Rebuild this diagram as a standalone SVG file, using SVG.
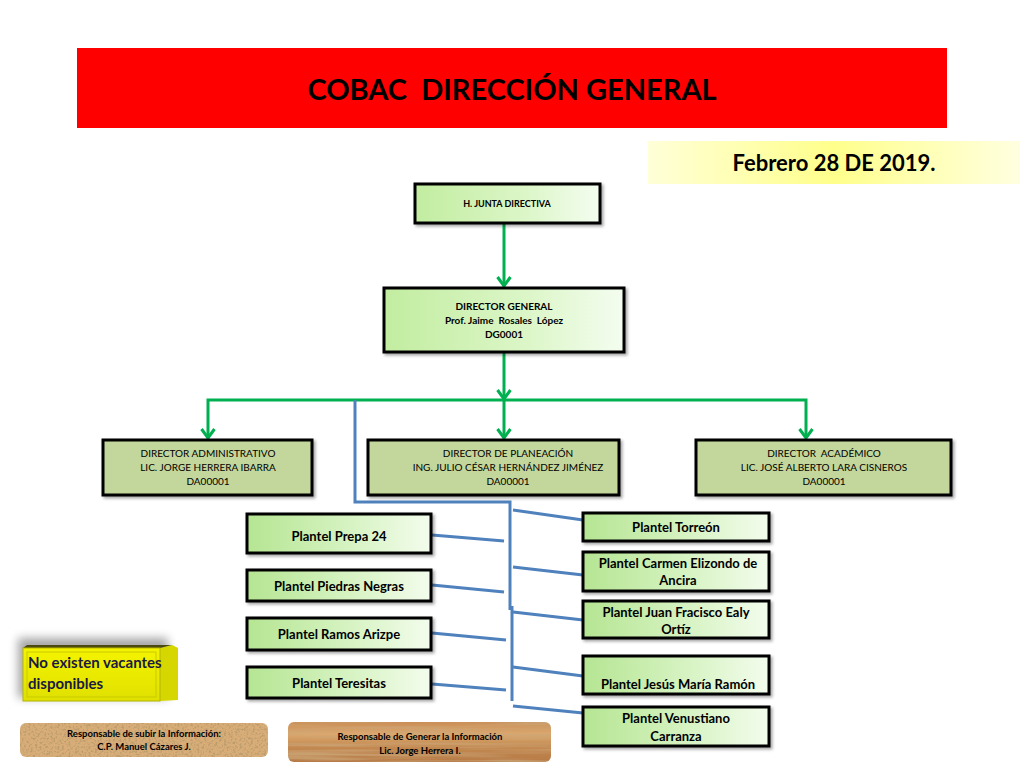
<svg xmlns="http://www.w3.org/2000/svg" width="1024" height="768" viewBox="0 0 1024 768">
<defs>
<linearGradient id="gTop" x1="0" y1="0" x2="1" y2="0">
<stop offset="0" stop-color="#c2eda0"/><stop offset="0.6" stop-color="#dcf6c8"/><stop offset="1" stop-color="#f4fdf0"/>
</linearGradient>
<linearGradient id="gPl" x1="0" y1="0" x2="1" y2="0">
<stop offset="0" stop-color="#b5e592"/><stop offset="0.6" stop-color="#d9f4c6"/><stop offset="1" stop-color="#f3fced"/>
</linearGradient>
<linearGradient id="gDate" x1="0" y1="0" x2="1" y2="0">
<stop offset="0" stop-color="#ffffd8"/><stop offset="0.5" stop-color="#ffff8c"/><stop offset="1" stop-color="#ffffe0"/>
</linearGradient>
<linearGradient id="gYel" x1="0" y1="0" x2="0" y2="1">
<stop offset="0" stop-color="#f4f400"/><stop offset="1" stop-color="#e0e000"/>
</linearGradient>
<linearGradient id="gWood" x1="0" y1="0" x2="0" y2="1">
<stop offset="0" stop-color="#c98d55"/><stop offset="0.3" stop-color="#dba86f"/><stop offset="0.6" stop-color="#c48a52"/><stop offset="1" stop-color="#b67a45"/>
</linearGradient>
<filter id="corkTex" x="0" y="0" width="100%" height="100%">
<feTurbulence type="fractalNoise" baseFrequency="0.45" numOctaves="3" seed="4" result="n"/>
<feColorMatrix in="n" type="matrix" values="0 0 0 0 0.5  0 0 0 0 0.33  0 0 0 0 0.15  3.5 0 0 0 -1.6" result="spots"/>
<feComposite in="spots" in2="SourceGraphic" operator="atop"/>
</filter>
<filter id="woodTex" x="0" y="0" width="100%" height="100%">
<feTurbulence type="fractalNoise" baseFrequency="0.008 0.3" numOctaves="2" seed="7" result="n"/>
<feColorMatrix in="n" type="matrix" values="0 0 0 0 0.6  0 0 0 0 0.38  0 0 0 0 0.18  2.2 0 0 0 -0.9" result="grain"/>
<feComposite in="grain" in2="SourceGraphic" operator="atop"/>
</filter>
<filter id="sh" x="-10%" y="-20%" width="130%" height="150%">
<feDropShadow dx="2" dy="2" stdDeviation="1.5" flood-color="#000" flood-opacity="0.35"/>
</filter>
<filter id="blur" x="-30%" y="-30%" width="160%" height="160%">
<feGaussianBlur stdDeviation="5"/>
</filter>
<marker id="ga" viewBox="0 0 12 16" refX="10" refY="8" markerWidth="12" markerHeight="16" markerUnits="userSpaceOnUse" orient="auto-start-reverse">
<polyline points="1,1.5 10,8 1,14.5" fill="none" stroke="#00b050" stroke-width="3"/>
</marker>
<style>
.t{font-family:Lato,"Liberation Sans",sans-serif;fill:#000;text-anchor:middle;white-space:pre}
.b{font-weight:bold}
.box{stroke:#000;stroke-width:3;filter:url(#sh)}
.top{fill:url(#gTop)}
.pl{fill:url(#gPl)}
.dir{fill:#c3d69b}
.g{stroke:#00b050;stroke-width:3;fill:none}
.bl{stroke:#4f81bd;stroke-width:3;fill:none}
.s9{font-size:9px}
.s10{font-size:10px}
.s13{font-size:13px}
</style>
</defs>
<rect width="1024" height="768" fill="#fff"/>

<g id="header">
<rect x="77" y="48" width="870" height="80" fill="#fe0000"/>
<text class="t b" x="512" y="100" font-size="29" xml:space="preserve">COBAC  DIRECCIÓN GENERAL</text>
</g>
<g id="date">
<rect x="648" y="141" width="372" height="43" fill="url(#gDate)"/>
<text class="t b" x="834" y="171" font-size="22">Febrero 28 DE 2019.</text>
</g>

<g id="connectors">
<line class="g" x1="504" y1="224" x2="504" y2="286" marker-end="url(#ga)"/>
<line class="g" x1="504" y1="353" x2="504" y2="399" marker-end="url(#ga)"/>
<polyline class="g" points="208,438 208,400 806,400 806,438" marker-start="url(#ga)" marker-end="url(#ga)"/>
<line class="g" x1="504" y1="400" x2="504" y2="438" marker-end="url(#ga)"/>
<polyline class="bl" points="355,400 355,502 510,502 510,610"/>
<line class="bl" x1="512" y1="606" x2="512" y2="701"/>
<line class="bl" x1="432" y1="535" x2="504" y2="541"/>
<line class="bl" x1="432" y1="585" x2="504" y2="592"/>
<line class="bl" x1="432" y1="633" x2="506" y2="640"/>
<line class="bl" x1="432" y1="684" x2="506" y2="690"/>
<line class="bl" x1="513" y1="510" x2="583" y2="520"/>
<line class="bl" x1="513" y1="567" x2="583" y2="575"/>
<line class="bl" x1="513" y1="612" x2="583" y2="620"/>
<line class="bl" x1="513" y1="667" x2="583" y2="676"/>
<line class="bl" x1="513" y1="706" x2="583" y2="713"/>
</g>

<g id="junta">
<rect class="box top" x="415" y="184" width="185" height="39"/>
<text class="t b s9" x="507" y="207">H. JUNTA DIRECTIVA</text>
</g>
<g id="director-general">
<rect class="box top" x="384" y="288" width="240" height="64"/>
<text class="t b s10" x="504" y="310">DIRECTOR GENERAL</text>
<text class="t b s10" x="504" y="324" xml:space="preserve">Prof. Jaime  Rosales  López</text>
<text class="t b s10" x="504" y="338">DG0001</text>
</g>
<g id="dir-admin">
<rect class="box dir" x="103" y="440" width="209" height="55"/>
<text class="t s10" x="208" y="457">DIRECTOR ADMINISTRATIVO</text>
<text class="t s10" x="208" y="471">LIC. JORGE HERRERA IBARRA</text>
<text class="t s10" x="208" y="485">DA00001</text>
</g>
<g id="dir-planeacion">
<rect class="box dir" x="368" y="440" width="251" height="55"/>
<text class="t s10" x="508" y="457">DIRECTOR DE PLANEACIÓN</text>
<text class="t s10" x="508" y="471">ING. JULIO CÉSAR HERNÁNDEZ JIMÉNEZ</text>
<text class="t s10" x="508" y="485">DA00001</text>
</g>
<g id="dir-academico">
<rect class="box dir" x="696" y="440" width="255" height="55"/>
<text class="t s10" x="824" y="457" xml:space="preserve">DIRECTOR  ACADÉMICO</text>
<text class="t s10" x="824" y="471">LIC. JOSÉ ALBERTO LARA CISNEROS</text>
<text class="t s10" x="824" y="485">DA00001</text>
</g>

<g id="plantel-prepa24">
<rect class="box pl" x="247" y="514" width="184" height="39"/>
<text class="t b s13" x="339" y="541">Plantel Prepa 24</text>
</g>
<g id="plantel-piedras">
<rect class="box pl" x="247" y="570" width="184" height="31"/>
<text class="t b s13" x="339" y="591">Plantel Piedras Negras</text>
</g>
<g id="plantel-ramos">
<rect class="box pl" x="247" y="618" width="184" height="32"/>
<text class="t b s13" x="339" y="639">Plantel Ramos Arizpe</text>
</g>
<g id="plantel-teresitas">
<rect class="box pl" x="247" y="667" width="184" height="31"/>
<text class="t b s13" x="339" y="688">Plantel Teresitas</text>
</g>

<g id="plantel-torreon">
<rect class="box pl" x="583" y="513" width="186" height="28"/>
<text class="t b s13" x="676" y="532">Plantel Torreón</text>
</g>
<g id="plantel-carmen">
<rect class="box pl" x="583" y="552" width="186" height="39"/>
<text class="t b s13" x="678" y="568">Plantel Carmen Elizondo de</text>
<text class="t b s13" x="678" y="585">Ancira</text>
</g>
<g id="plantel-juan">
<rect class="box pl" x="583" y="601" width="186" height="37"/>
<text class="t b s13" x="676" y="617">Plantel Juan Fracisco Ealy</text>
<text class="t b s13" x="676" y="634">Ortíz</text>
</g>
<g id="plantel-jesus">
<rect class="box pl" x="583" y="656" width="186" height="38"/>
<text class="t b s13" x="678" y="689">Plantel Jesús María Ramón</text>
</g>
<g id="plantel-venustiano">
<rect class="box pl" x="583" y="707" width="186" height="39"/>
<text class="t b s13" x="676" y="723">Plantel Venustiano</text>
<text class="t b s13" x="676" y="741">Carranza</text>
</g>

<g id="vacantes">
<rect x="18" y="638" width="150" height="60" fill="#000" opacity="0.35" filter="url(#blur)"/>
<polygon points="160,648 172,645 178,648 178,700 160,701" fill="#d6d600"/>
<polygon points="23,648 160,648 172,645 27,645" fill="#4a4a10"/>
<rect x="23" y="648" width="137" height="53" fill="url(#gYel)" stroke="#b5b500" stroke-width="1"/>
<rect x="27" y="652" width="129" height="45" fill="none" stroke="#c9c900" stroke-width="1"/>
<text class="b" x="28" y="668" font-family="Lato,'Liberation Sans',sans-serif" font-size="15" fill="#1a1a40">No existen vacantes</text>
<text class="b" x="28" y="689" font-family="Lato,'Liberation Sans',sans-serif" font-size="15" fill="#1a1a40">disponibles</text>
</g>

<g id="resp-subir">
<rect x="20" y="723" width="248" height="34" rx="6" fill="#d8ad78" filter="url(#corkTex)"/>
<text class="t b" x="144" y="737" font-size="9.5" fill="#222">Responsable de subir la Información:</text>
<text class="t b" x="144" y="750" font-size="9.5" fill="#222">C.P. Manuel Cázares J.</text>
</g>
<g id="resp-generar">
<rect x="288" y="722" width="263" height="40" rx="6" fill="url(#gWood)" filter="url(#woodTex)"/>
<text class="t b" x="420" y="740" font-size="9.5" fill="#111">Responsable de Generar la Información</text>
<text class="t b" x="420" y="754" font-size="9.5" fill="#111">Lic. Jorge Herrera I.</text>
</g>
</svg>
